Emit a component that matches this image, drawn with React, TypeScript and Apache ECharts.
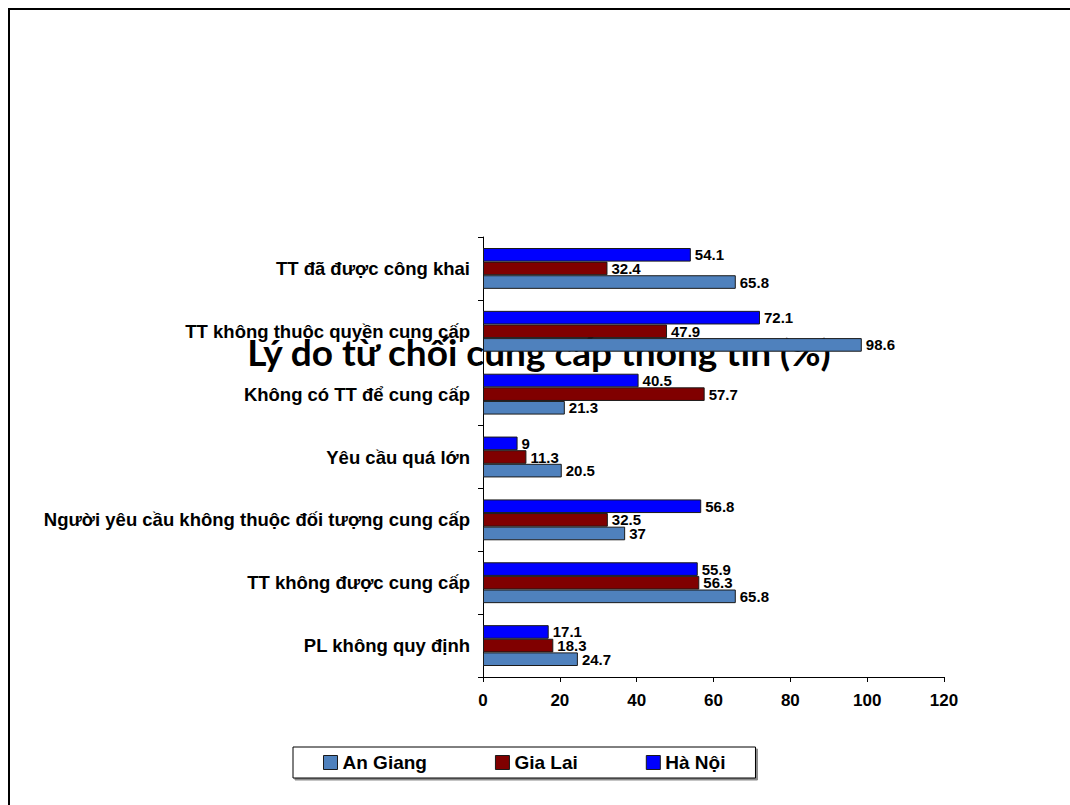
import React, { useEffect, useRef } from "react";
import * as echarts from "echarts";

// Categories listed bottom-to-top, as ECharts lays out a vertical category axis.
const categories = [
  "PL không quy định",
  "TT không được cung cấp",
  "Người yêu cầu không thuộc đối tượng cung cấp",
  "Yêu cầu quá lớn",
  "Không có TT để cung cấp",
  "TT không thuộc quyền cung cấp",
  "TT đã được công khai",
];

const anGiang = [24.7, 65.8, 37, 20.5, 21.3, 98.6, 65.8];
const giaLai = [18.3, 56.3, 32.5, 11.3, 57.7, 47.9, 32.4];
const haNoi = [17.1, 55.9, 56.8, 9, 40.5, 72.1, 54.1];

const xTicks = { min: 0, max: 120, interval: 20 };

const legendOrder = ["An Giang", "Gia Lai", "Hà Nội"];

const FONT = "'Liberation Sans', Arial, sans-serif";

export default function App() {
  const ref = useRef<HTMLDivElement>(null);

  useEffect(() => {
    if (!ref.current) return;
    const chart = echarts.init(ref.current, undefined, { renderer: "svg" });

    const makeSeries = (name: string, data: number[], color: string) => ({
      name,
      type: "bar",
      data,
      barGap: "0%",
      barCategoryGap: "35%",
      z: 2,
      itemStyle: { color, borderColor: "#1a1a1a", borderWidth: 1 },
      label: {
        show: true,
        position: "right",
        distance: 4,
        color: "#000",
        fontFamily: FONT,
        fontWeight: "bold",
        fontSize: 15,
      },
    });

    chart.setOption({
      animation: false,
      backgroundColor: "#fff",
      graphic: [
        {
          type: "rect",
          z: -10,
          silent: true,
          shape: { x: 9, y: 9, width: 1200, height: 1000 },
          style: { fill: "none", stroke: "#000", lineWidth: 2 },
        },
        {
          type: "text",
          z: 0,
          silent: true,
          x: 539,
          y: 351,
          style: {
            text: "Lý do từ chối cung cấp thông tin (%)",
            font: "bold 37px Lato, 'Open Sans', sans-serif",
            fill: "#000",
            textAlign: "center",
            textVerticalAlign: "middle",
          },
        },
      ],
      grid: { left: 483, top: 237, width: 461, height: 440, containLabel: false },
      xAxis: {
        type: "value",
        min: xTicks.min,
        max: xTicks.max,
        interval: xTicks.interval,
        axisLine: { show: true, lineStyle: { color: "#000", width: 1 } },
        axisTick: { show: true, length: 5, lineStyle: { color: "#000" } },
        splitLine: { show: false },
        axisLabel: {
          color: "#000",
          fontFamily: FONT,
          fontWeight: "bold",
          fontSize: 17,
          margin: 15,
        },
      },
      yAxis: {
        type: "category",
        data: categories,
        axisLine: { show: true, lineStyle: { color: "#000", width: 1 } },
        axisTick: { show: true, length: 5, alignWithLabel: false, lineStyle: { color: "#000" } },
        axisLabel: {
          color: "#000",
          fontFamily: FONT,
          fontWeight: "bold",
          fontSize: 18.5,
          margin: 13,
          padding: [0, 0, 5, 0],
        },
      },
      legend: {
        data: legendOrder,
        left: 293,
        top: 747,
        orient: "horizontal",
        padding: [6, 30, 6, 30],
        itemGap: 68,
        itemWidth: 14,
        itemHeight: 14,
        icon: "rect",
        backgroundColor: "#fff",
        borderColor: "#000",
        borderWidth: 1,
        borderRadius: 0,
        shadowColor: "rgba(0,0,0,0.45)",
        shadowOffsetX: 2,
        shadowOffsetY: 2,
        shadowBlur: 0,
        itemStyle: { borderColor: "#1a1a1a", borderWidth: 1 },
        textStyle: {
          color: "#000",
          fontFamily: FONT,
          fontWeight: "bold",
          fontSize: 19,
        },
      },
      series: [
        makeSeries("Hà Nội", haNoi, "#0000FF"),
        makeSeries("Gia Lai", giaLai, "#800000"),
        makeSeries("An Giang", anGiang, "#4F81BD"),
      ],
    });

    return () => chart.dispose();
  }, []);

  return (
    <div
      ref={ref}
      style={{ position: "absolute", left: 0, top: 0, width: 1070, height: 805 }}
    />
  );
}
